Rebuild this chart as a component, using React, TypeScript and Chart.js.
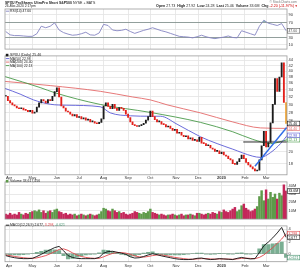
import { useEffect, useRef } from "react";
import { Chart, registerables } from "chart.js";

Chart.register(...registerables);

const FONT = "'Liberation Sans', 'DejaVu Sans', Arial, sans-serif";

// x axis = trading-day index (0 = 1-Apr-2019, 249 = 26-Mar-2020)
const X_MIN = -3.6;
const X_MAX = 249.8;
const monthDays = [0, 21, 43, 63, 85, 107, 127, 150, 170, 191, 212, 231];
const monthLabels = ["Apr", "May", "Jun", "Jul", "Aug", "Sep", "Oct", "Nov", "Dec", "2020", "Feb", "Mar"];

// price & volume: one value every 2 trading days, first at day -3
const PRICE_START = -3;
const PRICE_STEP = 2;
const closes = [
  32.2, 31.0, 30.4, 29.9, 29.6, 29.1, 28.9, 29.1, 28.6, 28.5,
  28.2, 28.5, 27.8, 28.1, 29.3, 30.4, 31.3, 30.9, 30.4, 31.3,
  31.0, 32.2, 33.5, 34.6, 32.0, 29.6, 29.1, 28.3, 28.1, 27.6,
  27.2, 27.5, 26.8, 27.0, 26.5, 26.7, 26.2, 26.4, 25.8, 25.9,
  25.5, 25.4, 25.7, 26.5, 29.6, 30.4, 29.5, 28.9, 30.0, 29.0,
  28.5, 29.2, 29.0, 28.5, 27.6, 26.8, 25.8, 25.2, 25.0, 24.8,
  25.0, 25.2, 25.5, 26.2, 27.0, 28.3, 27.0, 26.3, 25.8, 25.9,
  25.3, 25.2, 24.7, 24.9, 24.4, 24.0, 24.2, 23.4, 23.6, 23.0,
  22.7, 22.9, 22.3, 22.5, 22.0, 22.1, 21.8, 22.6, 21.5, 21.4,
  21.0, 21.1, 20.6, 20.4, 20.0, 20.1, 19.6, 19.9, 19.4, 19.2,
  18.8, 18.6, 18.0, 17.9, 18.3, 18.8, 19.4, 18.8, 18.2, 17.8,
  17.5, 17.2, 16.9, 17.0, 18.6, 21.0, 23.8, 20.8, 21.6, 25.6,
  30.0, 37.5, 33.6, 38.0, 43.0, 30.5, 25.46,
];
const volumesM = [
  6, 5, 7, 5, 6, 5, 8, 6, 5, 7, 6, 8, 9,
  10, 9, 11, 8, 10, 7, 9, 10, 8, 11, 12, 9,
  8, 6, 7, 5, 6, 5, 6, 4, 5, 6, 5, 4, 5, 6, 5, 4, 5, 6,
  9, 13, 12, 10, 9, 12, 10, 8, 9, 7, 8,
  6, 5, 6, 7, 9, 8, 7, 6, 8, 7, 9, 12,
  8, 7, 6, 5, 6, 5, 4, 5, 5, 6, 5, 4, 5, 6, 4, 5, 5, 6, 5, 4, 7,
  7, 6, 5, 6, 7, 6, 8, 7, 6, 9, 8, 11, 9, 8,
  10, 12, 14, 9, 11, 16, 18, 13, 11, 9,
  10, 12, 15, 27, 34, 22, 35, 24, 32, 26, 30, 24, 31, 28, 41, 33.6,
];

// indicators: one value every 4 trading days, first at day -3
const IND_START = -3;
const IND_STEP = 4;
const rsi = [
  46, 37, 35, 35, 34, 33, 33, 40, 60, 56,
  60, 69, 50, 43, 39, 36, 37, 40, 44, 37,
  36, 42, 65, 62, 50, 48, 49, 52, 46, 41,
  45, 49, 52, 56, 52, 48, 45, 41, 37, 33,
  32, 31, 29, 32, 36, 32, 29, 27, 29, 31,
  34, 30, 29, 48, 44, 40, 36, 60, 76, 68,
  65, 62, 67, 48,
];
const macd = [
  -0.3, -0.5, -0.65, -0.75, -0.8, -0.8, -0.75, -0.45, -0.1, 0.3,
  0.65, 1.0, 1.2, 0.5, -0.3, -0.6, -0.75, -0.8, -0.8, -0.8,
  -0.8, -0.6, 0.1, 0.35, 0.4, 0.25, 0.1, -0.1, -0.5, -0.7,
  -0.65, -0.45, -0.2, 0.0, -0.15, -0.35, -0.5, -0.65, -0.8, -0.9,
  -0.95, -0.95, -0.9, -0.75, -0.7, -0.85, -0.95, -0.9, -0.8, -0.85,
  -0.9, -0.95, -0.75, -0.6, -0.75, -0.85, -0.8, 0.2, 1.3, 1.9,
  2.6, 3.4, 4.3, 2.68,
];
const macdSignal = [
  -0.2, -0.3, -0.45, -0.55, -0.65, -0.72, -0.75, -0.68, -0.5, -0.3,
  0.0, 0.35, 0.7, 0.8, 0.55, 0.15, -0.2, -0.45, -0.6, -0.7,
  -0.75, -0.75, -0.5, -0.2, 0.05, 0.2, 0.2, 0.1, -0.1, -0.35,
  -0.5, -0.55, -0.45, -0.3, -0.2, -0.2, -0.3, -0.45, -0.6, -0.7,
  -0.8, -0.88, -0.9, -0.85, -0.8, -0.8, -0.85, -0.88, -0.85, -0.85,
  -0.87, -0.9, -0.85, -0.75, -0.72, -0.77, -0.8, -0.6, -0.2, 0.4,
  1.0, 1.7, 2.4, 3.3,
];

// moving averages (day, value)
const ma50Days = [-4, 10, 22, 37, 52, 82, 91, 109, 127, 136, 151, 172, 187, 201, 219, 226, 235, 244, 250];
const ma50Vals = [34.5, 32.8, 31.2, 30.05, 29.8, 29.4, 27.9, 27.2, 27.1, 27.1, 25.3, 22.7, 21.4, 20.4, 19.2, 19.0, 19.8, 21.4, 22.98];
const ma100Days = [-4, 28, 41, 82, 127, 172, 201, 219, 235, 250];
const ma100Vals = [38.2, 34.7, 33.2, 30.0, 28.0, 25.7, 23.7, 22.2, 21.4, 22.13];
const ma200Days = [-4, 37, 82, 111, 127, 142, 172, 201, 226, 250];
const ma200Vals = [36.6, 35.3, 33.6, 32.0, 31.2, 29.9, 27.9, 25.8, 24.5, 24.4];

// drawn annotations (day, price)
const trendDays = [221, 249.5];
const trendVals = [17.6, 24.6];
const levelDays = [210.5, 250];
const levelVals = [21.7, 21.7];

const priceTicks = [44, 42, 40, 38, 36, 34, 32, 30, 28, 26, 24, 22, 20, 18];
const rsiTicks = [90, 70, 50, 30, 10];
const volTicks = [40, 35, 30, 25, 20, 15, 10, 5];
const macdTicks = [4, 2, 0];

const C = {
  up: "#1c1c1c", down: "#e3201b", last: "#f2a22a",
  ma50: "#5b5bd6", ma100: "#4a9a4a", ma200: "#e46a6a",
  trend: "#2f6ce8", level: "#2a2a2a", rsi: "#8585c2",
  volUp: "#5e9a4a", volDown: "#c4275a",
  macd: "#111111", signal: "#e0464a", hist: "rgba(66,140,100,0.7)", histText: "#3f8f6a",
  grid: "#e3e3e3", border: "#9c9c9c", text: "#222222", fill: "rgba(60,150,130,0.6)",
};

const pts = (days: number[], vals: number[]) => days.map((d, i) => ({ x: d, y: vals[i] }));
const seriesPts = (start: number, step: number, vals: number[]) => vals.map((v, i) => ({ x: start + step * i, y: v }));

function xAxis(labels: boolean, pad: number): any {
  return {
    type: "linear", min: X_MIN, max: X_MAX, offset: false,
    afterBuildTicks: (a: any) => { a.ticks = monthDays.map((v) => ({ value: v })); },
    afterFit: (a: any) => { a.height = labels ? 6 : 0; },
    grid: { color: C.grid, lineWidth: 0.8, drawTicks: false, offset: false },
    border: { display: false },
    ticks: {
      display: labels, autoSkip: false, maxRotation: 0, minRotation: 0, padding: pad, color: "#333",
      font: (ctx: any) => ({ size: 4, family: FONT, weight: ctx.tick && ctx.tick.value === 191 ? "bold" : "normal" }),
      callback: (_v: any, i: number) => monthLabels[i],
    },
  };
}

function yAxis(type: string, min: number, max: number, ticks: number[], fmt: (v: number) => string, gridColor?: any): any {
  return {
    type, position: "right", min, max,
    afterBuildTicks: (a: any) => { a.ticks = ticks.map((v) => ({ value: v })); },
    afterFit: (a: any) => { a.width = 13; },
    grid: { color: gridColor || C.grid, lineWidth: 0.8, drawTicks: false },
    border: { display: false },
    ticks: { padding: 1.5, color: "#333", font: { size: 4, family: FONT }, callback: (v: any) => fmt(Number(v)) },
  };
}

type Seg = { t: string; c?: string; b?: boolean };
function segs(ctx: CanvasRenderingContext2D, x: number, y: number, list: Seg[], size: number, align: "left" | "right" = "left") {
  ctx.textBaseline = "middle";
  ctx.textAlign = "left";
  const w = list.map((s) => { ctx.font = `${s.b ? "bold " : ""}${size}px ${FONT}`; return ctx.measureText(s.t).width; });
  let cx = align === "right" ? x - w.reduce((a, b) => a + b, 0) : x;
  list.forEach((s, i) => {
    ctx.font = `${s.b ? "bold " : ""}${size}px ${FONT}`;
    ctx.fillStyle = s.c || C.text;
    ctx.fillText(s.t, cx, y);
    cx += w[i];
  });
}
function valueBox(ctx: CanvasRenderingContext2D, chart: any, value: number, text: string, color: string) {
  const y = chart.scales.y.getPixelForValue(value);
  const x = chart.chartArea.right + 0.6;
  ctx.fillStyle = "#fff";
  ctx.fillRect(x, y - 2.3, 12.2, 4.6);
  ctx.strokeStyle = color;
  ctx.lineWidth = 0.6;
  ctx.strokeRect(x, y - 2.3, 12.2, 4.6);
  ctx.font = `3.5px ${FONT}`;
  ctx.fillStyle = color;
  ctx.textBaseline = "middle";
  ctx.textAlign = "left";
  ctx.fillText(text, x + 0.8, y + 0.2);
}
function swLine(ctx: CanvasRenderingContext2D, x: number, y: number, color: string) {
  ctx.strokeStyle = color; ctx.lineWidth = 0.9;
  ctx.beginPath(); ctx.moveTo(x, y); ctx.lineTo(x + 3.5, y); ctx.stroke();
}
function swSquare(ctx: CanvasRenderingContext2D, x: number, y: number, color: string) {
  ctx.fillStyle = color; ctx.fillRect(x, y - 1.3, 2.6, 2.6);
}

function panelPlugin(top: number, draw: (ctx: CanvasRenderingContext2D, chart: any, Y: (y: number) => number) => void): any {
  return {
    id: "panelDeco",
    beforeDraw(chart: any) {
      const { ctx, chartArea: a } = chart;
      ctx.save(); ctx.fillStyle = "#fff"; ctx.fillRect(a.left, a.top, a.right - a.left, a.bottom - a.top); ctx.restore();
    },
    afterDraw(chart: any) {
      const { ctx, chartArea: a } = chart;
      ctx.save();
      ctx.strokeStyle = C.border; ctx.lineWidth = 0.8;
      ctx.strokeRect(a.left, a.top, a.right - a.left, a.bottom - a.top);
      draw(ctx, chart, (y: number) => y - top);
      ctx.restore();
    },
  };
}

const common: any = {
  responsive: false, animation: false, devicePixelRatio: 1, events: [],
  plugins: { legend: { display: false }, tooltip: { enabled: false } },
};

function rsiConfig(): any {
  const p = seriesPts(IND_START, IND_STEP, rsi);
  return {
    type: "line",
    data: { datasets: [
      { data: p, borderColor: C.rsi, borderWidth: 0.9, pointRadius: 0, fill: { target: { value: 70 }, above: C.fill, below: "rgba(0,0,0,0)" } },
      { data: p, borderColor: "rgba(0,0,0,0)", borderWidth: 0, pointRadius: 0, fill: { target: { value: 30 }, above: "rgba(0,0,0,0)", below: C.fill } },
    ] },
    options: {
      ...common,
      layout: { padding: { left: 5, right: 0, top: 9, bottom: 1.5 } },
      scales: {
        x: xAxis(false, 0),
        y: yAxis("linear", -1, 106, rsiTicks, (v) => String(v), (ctx: any) => ctx.tick && (ctx.tick.value === 70 || ctx.tick.value === 30) ? "#8a8a8a" : C.grid),
      },
    },
    plugins: [panelPlugin(0, (ctx, chart, Y) => {
      segs(ctx, 5, Y(2.6), [{ t: "SPXU ", b: true }, { t: "ProShares UltraPro Short S&P500 ", b: true }, { t: "NYSE + BATS" }], 3.5);
      segs(ctx, 5, Y(6.4), [{ t: "26-Mar-2020 2:17pm" }], 3.3);
      segs(ctx, 297, Y(2.4), [{ t: "© StockCharts.com", c: "#777" }], 3.2, "right");
      segs(ctx, 297, Y(6.4), [
        { t: "Open ", b: true }, { t: "27.73  " }, { t: "High ", b: true }, { t: "27.92  " },
        { t: "Low ", b: true }, { t: "24.28  " }, { t: "Last ", b: true }, { t: "25.46  " },
        { t: "Volume ", b: true }, { t: "33.6M  " }, { t: "Chg ", b: true }, { t: "-2.20 (-11.97%) ▾", c: "#c00" },
      ], 3.6, "right");
      swLine(ctx, 5.8, Y(11.2), C.rsi);
      segs(ctx, 10, Y(11.2), [{ t: "RSI(14) 47.60" }], 3.4);
      valueBox(ctx, chart, 47.6, "47.60", "#555");
    })],
  };
}

function priceConfig(): any {
  const candles = closes.map((c, k) => ({ x: PRICE_START + PRICE_STEP * k, y: [k ? closes[k - 1] : c, c] }));
  const colors = closes.map((c, k) => (k === closes.length - 1 ? C.last : k > 0 && c < closes[k - 1] ? C.down : C.up));
  const line = (data: any, color: string, w: number, order: number, smooth = true) => ({
    type: "line", data, borderColor: color, borderWidth: w, pointRadius: 0, order,
    cubicInterpolationMode: smooth ? "monotone" : "default",
  });
  return {
    type: "bar",
    data: { datasets: [
      line(pts(trendDays, trendVals), C.trend, 1.4, 0, false),
      line(pts(levelDays, levelVals), C.level, 1, 1, false),
      { type: "bar", data: candles, backgroundColor: colors, barThickness: 1.2, minBarLength: 1, order: 2 },
      line(pts(ma50Days, ma50Vals), C.ma50, 0.9, 3),
      line(pts(ma100Days, ma100Vals), C.ma100, 0.9, 4),
      line(pts(ma200Days, ma200Vals), C.ma200, 0.9, 5),
    ] },
    options: {
      ...common,
      layout: { padding: { left: 5, right: 0, top: 0.5, bottom: 0.2 } },
      scales: { x: xAxis(true, 0.3), y: yAxis("logarithmic", 16.35, 45.6, priceTicks, (v) => String(v)) },
    },
    plugins: [panelPlugin(51.5, (ctx, chart, Y) => {
      swSquare(ctx, 5.8, Y(54.6), C.up);
      segs(ctx, 10, Y(54.6), [{ t: "SPXU (Daily) 25.46" }], 3.6);
      swLine(ctx, 5.8, Y(58.1), C.ma50);
      segs(ctx, 10, Y(58.1), [{ t: "MA(50) 22.98" }], 3.4);
      swLine(ctx, 5.8, Y(61.6), C.ma200);
      segs(ctx, 10, Y(61.6), [{ t: "MA(200) 24.40" }], 3.4);
      swLine(ctx, 5.8, Y(65.1), C.ma100);
      segs(ctx, 10, Y(65.1), [{ t: "MA(100) 22.13" }], 3.4);
      valueBox(ctx, chart, 24.4, "24.40", C.ma200);
      valueBox(ctx, chart, 22.13, "22.13", C.ma100);
      valueBox(ctx, chart, 22.98, "22.98", C.ma50);
      valueBox(ctx, chart, 25.46, "25.46", "#111");
    })],
  };
}

function volumeConfig(): any {
  const data = volumesM.map((v, k) => ({ x: PRICE_START + PRICE_STEP * k, y: v }));
  const colors = closes.map((c, k) => (k > 0 && c >= closes[k - 1] ? C.volUp : C.volDown));
  return {
    type: "bar",
    data: { datasets: [{ data, backgroundColor: colors, barThickness: 1.8 }] },
    options: {
      ...common,
      layout: { padding: { left: 5, right: 0, top: 0.3, bottom: 1 } },
      scales: { x: xAxis(false, 0), y: yAxis("linear", 0, 44.5, volTicks, (v) => `${v}M`) },
    },
    plugins: [panelPlugin(178, (ctx, chart, Y) => {
      swSquare(ctx, 5.8, Y(181.2), C.volUp);
      segs(ctx, 10, Y(181.2), [{ t: "Volume 33,617,456" }], 3.5);
      valueBox(ctx, chart, 33.6, "33.6M", "#111");
    })],
  };
}

function macdConfig(): any {
  const hist = macd.map((m, j) => ({ x: IND_START + IND_STEP * j, y: m - macdSignal[j] }));
  return {
    type: "bar",
    data: { datasets: [
      { type: "line", data: seriesPts(IND_START, IND_STEP, macd), borderColor: C.macd, borderWidth: 0.9, pointRadius: 0, order: 0 },
      { type: "line", data: seriesPts(IND_START, IND_STEP, macdSignal), borderColor: C.signal, borderWidth: 0.9, pointRadius: 0, order: 1 },
      { type: "bar", data: hist, backgroundColor: C.hist, barThickness: 3.4, order: 2 },
    ] },
    options: {
      ...common,
      layout: { padding: { left: 5, right: 0, top: 0.5, bottom: 2.3 } },
      scales: {
        x: xAxis(true, 1.8),
        y: yAxis("linear", -1.3, 4.55, macdTicks, (v) => String(v), (ctx: any) => ctx.tick && ctx.tick.value === 0 ? "#b8b8b8" : C.grid),
      },
    },
    plugins: [panelPlugin(222, (ctx, chart, Y) => {
      swLine(ctx, 5.8, Y(225.2), C.macd);
      segs(ctx, 10, Y(225.2), [
        { t: "MACD(12,26,9) " }, { t: "2.677", c: C.macd }, { t: ", " }, { t: "3.298", c: C.signal }, { t: ", " }, { t: "-0.621", c: C.histText },
      ], 3.4);
      valueBox(ctx, chart, 3.298, "3.298", C.signal);
      valueBox(ctx, chart, 2.677, "2.677", "#111");
      valueBox(ctx, chart, -0.621, "-0.621", C.histText);
    })],
  };
}

export default function App() {
  const rRsi = useRef<HTMLCanvasElement>(null);
  const rPrice = useRef<HTMLCanvasElement>(null);
  const rVol = useRef<HTMLCanvasElement>(null);
  const rMacd = useRef<HTMLCanvasElement>(null);

  useEffect(() => {
    const charts = [
      new Chart(rPrice.current as HTMLCanvasElement, priceConfig()),
      new Chart(rRsi.current as HTMLCanvasElement, rsiConfig()),
      new Chart(rVol.current as HTMLCanvasElement, volumeConfig()),
      new Chart(rMacd.current as HTMLCanvasElement, macdConfig()),
    ];
    return () => charts.forEach((c) => c.destroy());
  }, []);

  const cs = (top: number): any => ({ position: "absolute", left: 0, top });
  return (
    <div style={{ position: "fixed", left: 0, top: 0, width: 300, height: 270, background: "#fff", overflow: "hidden" }}>
      <canvas ref={rPrice} width={300} height={129} style={cs(51.5)} />
      <canvas ref={rRsi} width={300} height={53} style={cs(0)} />
      <canvas ref={rVol} width={300} height={45} style={cs(178)} />
      <canvas ref={rMacd} width={300} height={48} style={cs(222)} />
    </div>
  );
}
